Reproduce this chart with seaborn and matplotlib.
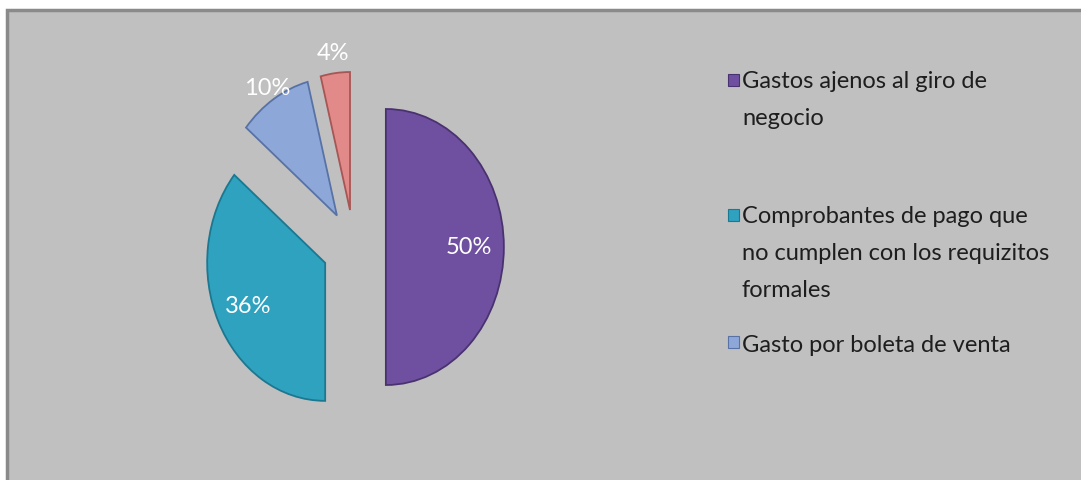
import matplotlib
matplotlib.use("Agg")
import matplotlib.pyplot as plt
import seaborn as sns
import numpy as np
from matplotlib.patches import Rectangle

# ---- data ----
categories = ["Gastos ajenos al giro de negocio",
              "Comprobantes de pago que no cumplen con los requizitos formales",
              "Gasto por boleta de venta",
              "Otros"]
values = [50, 36, 10, 4]
pct_labels = ["50%", "36%", "10%", "4%"]
legend_lines = [["Gastos ajenos al giro de", "negocio"],
                ["Comprobantes de pago que", "no cumplen con los requizitos", "formales"],
                ["Gasto por boleta de venta"]]

colors = ["#6F50A0", "#2FA2C0", "#8DA8D8", "#E2898A"]
edges = ["#4A3270", "#1C7790", "#5872A6", "#A65654"]

sns.set_theme(style="white")
plt.rcParams['font.family'] = ['Lato', 'DejaVu Sans']

W, H = 1081, 481
fig = plt.figure(figsize=(W / 100, H / 100), dpi=100, facecolor="white")

bg = Rectangle((7 / W, -0.05), 1.1, (H - 11) / H + 0.05, transform=fig.transFigure,
               facecolor="#C0C0C0", edgecolor="#8A8A8A", linewidth=2.5, zorder=0)
fig.add_artist(bg)

ax = fig.add_axes([0, 0, 1, 1])
ax.set_facecolor("none")

cx, cy = 354.0, 248.0   # pie centre, pixels from top-left
rx, ry = 118.0, 138.0   # pixels per radius unit

wedges, _ = ax.pie(values, colors=colors, explode=[0.27] * len(values),
                   startangle=90, counterclock=False,
                   wedgeprops=dict(linewidth=1.3))
for w, ec in zip(wedges, edges):
    w.set_edgecolor(ec)

ax.set_aspect("auto")
ax.set_xlim(-cx / rx, (W - cx) / rx)
ax.set_ylim(-(H - cy) / ry, cy / ry)
ax.axis("off")

label_dist = [0.7, 0.72, 1.1, 1.15]
for w, lab, d in zip(wedges, pct_labels, label_dist):
    ang = np.deg2rad((w.theta1 + w.theta2) / 2)
    x0, y0 = w.center
    ax.text(x0 + d * np.cos(ang), y0 + d * np.sin(ang), lab,
            ha="center", va="center", color="white", fontsize=17)

# legend (manual, matching Excel layout)
marker_y = [75, 210, 337]
baselines = [[88, 125], [223, 260, 297], [352]]
for i, lines in enumerate(legend_lines):
    fig.add_artist(Rectangle((728 / W, 1 - (marker_y[i] + 12) / H), 11 / W, 12 / H,
                             transform=fig.transFigure, facecolor=colors[i],
                             edgecolor=edges[i], linewidth=0.8))
    for line, b in zip(lines, baselines[i]):
        fig.text(742 / W, 1 - b / H, line, ha="left", va="baseline",
                 fontsize=17, color="#1E1E1E")

fig.savefig("out.png", dpi=100, facecolor="white")
